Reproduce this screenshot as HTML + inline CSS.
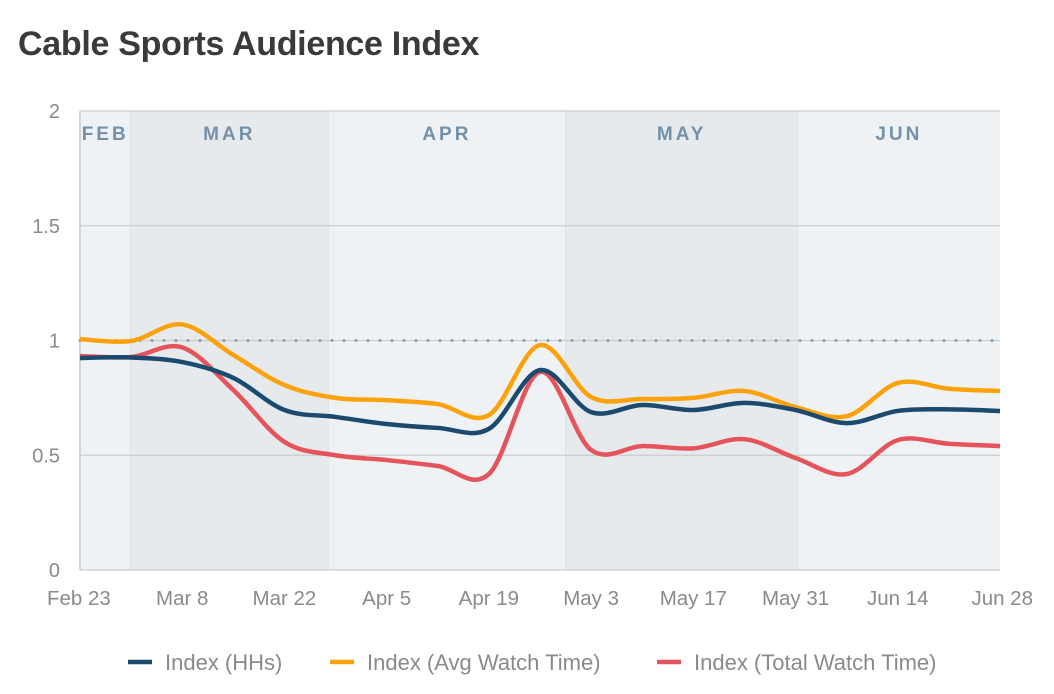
<!DOCTYPE html>
<html><head><meta charset="utf-8"><style>
body{margin:0;background:#fff;font-family:"Liberation Sans",Arial,sans-serif;}
</style></head><body>
<div style="position:relative;width:1054px;height:694px;overflow:hidden">
<div style="position:absolute;left:18px;top:25px;font-size:34px;font-weight:bold;color:#3a3a3a;letter-spacing:-0.3px">Cable Sports Audience Index</div>
<svg id="svg" width="1054" height="694" style="position:absolute;left:0;top:0"></svg>
</div>
<script>
const xTicks=["Feb 23","Mar 8","Mar 22","Apr 5","Apr 19","May 3","May 17","May 31","Jun 14","Jun 28"];
const yTicks=[0,0.5,1,1.5,2];
const months=["FEB","MAR","APR","MAY","JUN"];
const monthStarts=[0,6.9,34,66.5,98.3];
const hh=[0.924,0.926,0.906,0.837,0.697,0.667,0.636,0.619,0.615,0.871,0.688,0.719,0.697,0.728,0.697,0.64,0.693,0.70,0.693];
const avg=[1.006,0.998,1.07,0.937,0.806,0.75,0.74,0.723,0.675,0.98,0.754,0.745,0.75,0.78,0.71,0.67,0.815,0.79,0.78];
const tot=[0.932,0.928,0.97,0.784,0.558,0.50,0.479,0.453,0.418,0.863,0.523,0.54,0.53,0.57,0.488,0.418,0.566,0.55,0.54];
const X0=80,X1=1000,Y0=570,Y1=111,DAYS=126;
const x=d=>X0+d/DAYS*(X1-X0);
const y=v=>Y0-v/2*(Y0-Y1);
const svg=document.getElementById('svg');const NS="http://www.w3.org/2000/svg";
function mk(t,a,p){const e=document.createElementNS(NS,t);for(const k in a)e.setAttribute(k,a[k]);(p||svg).appendChild(e);return e;}
const bandCols=["#eff2f5","#e6eaed","#eff2f5","#e6eaed","#eff2f5"];
monthStarts.forEach((s,i)=>{const e=i<4?monthStarts[i+1]:DAYS;
 const r=mk('rect',{x:x(s),y:Y1,width:x(e)-x(s),height:Y0-Y1,fill:bandCols[i]});
 
 
 if(i>0)mk('line',{x1:x(s),x2:x(s),y1:Y1,y2:Y0,stroke:'#dde1e4','stroke-width':1});
 const t=mk('text',{x:(x(s)+x(e))/2,y:140,'text-anchor':'middle','font-size':19,'font-weight':'bold',fill:'#7491aa','letter-spacing':'3'});
 t.textContent=months[i];
 
 
});
yTicks.forEach(v=>{
 mk('line',{x1:X0,x2:X1,y1:y(v),y2:y(v),stroke:'#cccccc','stroke-width':1.2});
 const t=mk('text',{x:60,y:y(v)+7,'text-anchor':'end','font-size':20,fill:'#8a8a8a'});t.textContent=String(v);
 
 
});
mk('line',{x1:X0,x2:X0,y1:Y1,y2:Y0,stroke:'#cccccc','stroke-width':1.5});
mk('line',{x1:X0,x2:X1,y1:y(1),y2:y(1),stroke:'#8a9aa8','stroke-width':3,'stroke-dasharray':'0 12','stroke-linecap':'round'});
xTicks.forEach((l,i)=>{const t=mk('text',{x:x(i*14),y:605,'text-anchor':i==0?'start':(i==9?'end':'middle'),'font-size':20.5,fill:'#8a8a8a'});
 if(i==0)t.setAttribute('x',x(0)-33);if(i==9)t.setAttribute('x',x(126)+33);
 t.textContent=l;
 
 });
function path(arr){const p=arr.map((v,i)=>[x(i*7),y(v)]);let d=`M${p[0][0]},${p[0][1]}`;
 for(let i=0;i<p.length-1;i++){const a=p[Math.max(0,i-1)],b=p[i],c=p[i+1],e=p[Math.min(p.length-1,i+2)];
 const t=1/6;d+=` C${b[0]+(c[0]-a[0])*t},${b[1]+(c[1]-a[1])*t} ${c[0]-(e[0]-b[0])*t},${c[1]-(e[1]-b[1])*t} ${c[0]},${c[1]}`;}return d;}
[[tot,'#e5545a','series-total-watch-time'],[avg,'#fba20b','series-avg-watch-time'],[hh,'#1b4a6e','series-hhs']].forEach(s=>{
 const e=mk('path',{d:path(s[0]),fill:'none',stroke:s[1],'stroke-width':4.5,'stroke-linejoin':'round'});
 
 });
const leg=[["Index (HHs)",'#1b4a6e',128],["Index (Avg Watch Time)",'#fba20b',330],["Index (Total Watch Time)",'#e5545a',657]];
leg.forEach(l=>{const g=mk('g',{});
 
 
 mk('line',{x1:l[2],x2:l[2]+24,y1:662,y2:662,stroke:l[1],'stroke-width':4.5},g);
 const t=mk('text',{x:l[2]+37,y:670,'font-size':22,fill:'#8a8a8a'},g);t.textContent=l[0];});
</script>
</body></html>
